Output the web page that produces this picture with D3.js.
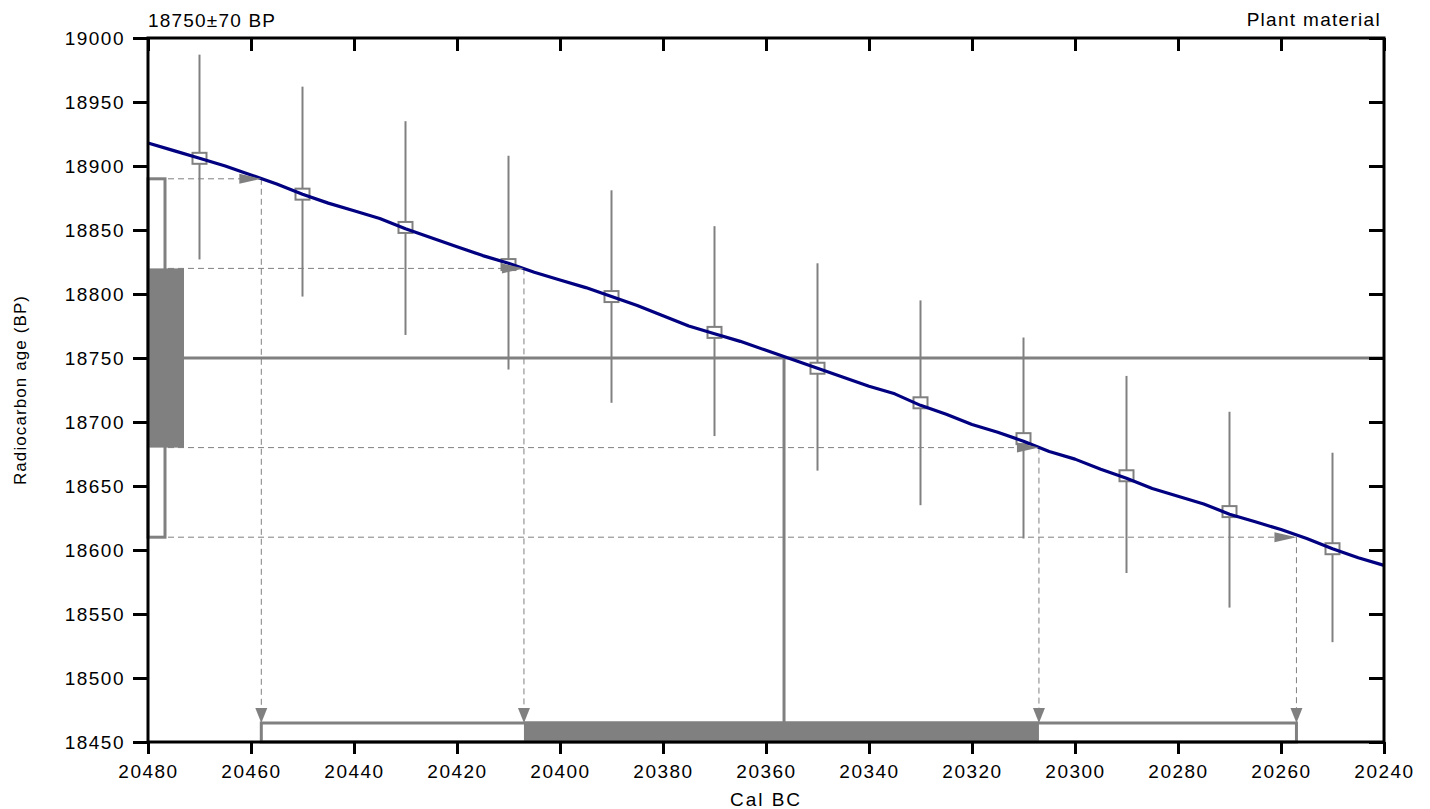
<!DOCTYPE html>
<html>
<head>
<meta charset="utf-8">
<script src="https://cdn.jsdelivr.net/npm/d3@7"></script>
<style>
  html, body { margin: 0; padding: 0; background: #ffffff; }
  svg { display: block; }
  text { font-family: "Liberation Sans", Arial, sans-serif; fill: #000; }
</style>
</head>
<body>
<svg id="chart" width="1430" height="809"></svg>
<script>
// ---------------- data ----------------
const titleLeft = "18750±70 BP";
const titleRight = "Plant material";
const xLabel = "Cal BC";
const yLabel = "Radiocarbon age (BP)";

const xTicks = [20480, 20460, 20440, 20420, 20400, 20380, 20360, 20340, 20320, 20300, 20280, 20260, 20240];
const yTicks = [18450, 18500, 18550, 18600, 18650, 18700, 18750, 18800, 18850, 18900, 18950, 19000];

// calibration curve (cal BC -> radiocarbon age BP)
const curveYears = [20480, 20475, 20470, 20465, 20460, 20455, 20450, 20445, 20440, 20435,
                    20430, 20425, 20420, 20415, 20410, 20405, 20400, 20395, 20390, 20385,
                    20380, 20375, 20370, 20365, 20360, 20355, 20350, 20345, 20340, 20335,
                    20330, 20325, 20320, 20315, 20310, 20305, 20300, 20295, 20290, 20285,
                    20280, 20275, 20270, 20265, 20260, 20255, 20250, 20245, 20240];
const curveBP = [18918, 18912, 18906, 18900, 18893, 18886, 18878, 18871, 18865, 18859,
                 18851, 18844, 18837, 18830, 18824, 18817, 18811, 18805, 18798, 18791,
                 18783, 18775, 18769, 18763, 18756, 18749, 18742, 18735, 18728, 18722,
                 18713, 18706, 18698, 18692, 18685, 18677, 18671, 18663, 18656, 18648,
                 18642, 18636, 18628, 18622, 18616, 18609, 18601, 18594, 18588];

// calibration data points with error bars
const pointYears = [20470, 20450, 20430, 20410, 20390, 20370, 20350, 20330, 20310, 20290, 20270, 20250];
const pointBP    = [18906, 18878, 18852, 18823, 18798, 18770, 18742, 18715, 18687, 18658, 18630, 18601];
const pointLow   = [18827, 18798, 18768, 18741, 18715, 18689, 18662, 18635, 18609, 18582, 18555, 18528];
const pointHigh  = [18987, 18962, 18935, 18908, 18881, 18853, 18824, 18795, 18766, 18736, 18708, 18676];

// measurement and calibrated ranges
const measBP = 18750;
const measErr = 70;
const calMedian = 20356.5;
const sigma1Range = [20407, 20307];
const sigma2Range = [20458, 20257];

// ---------------- layout ----------------
const GRAY = "#808080";
const NAVY = "#000080";
const plot = { left: 148, right: 1384, top: 38, bottom: 742 };

const svg = d3.select("#chart");
const x = d3.scaleLinear().domain([20480, 20240]).range([plot.left, plot.right]);
const y = d3.scaleLinear().domain([18450, 19000]).range([plot.bottom, plot.top]);

const barTop = plot.bottom - 19;

// dashed guide lines (horizontal from box to curve, vertical from curve down to bar)
const levels = [
  { bp: measBP + 2 * measErr, year: sigma2Range[0] },
  { bp: measBP + measErr, year: sigma1Range[0] },
  { bp: measBP - measErr, year: sigma1Range[1] },
  { bp: measBP - 2 * measErr, year: sigma2Range[1] }
];
const guides = svg.append("g")
  .attr("stroke", GRAY).attr("stroke-width", 1).attr("stroke-dasharray", "6,4").attr("fill", "none");
levels.forEach(l => {
  guides.append("line")
    .attr("x1", plot.left).attr("x2", x(l.year))
    .attr("y1", y(l.bp)).attr("y2", y(l.bp));
  guides.append("line")
    .attr("x1", x(l.year)).attr("x2", x(l.year))
    .attr("y1", y(l.bp)).attr("y2", barTop - 2);
});

// measurement line and median line
svg.append("line")
  .attr("x1", plot.left + 36).attr("x2", plot.right)
  .attr("y1", y(measBP)).attr("y2", y(measBP))
  .attr("stroke", GRAY).attr("stroke-width", 3);
svg.append("line")
  .attr("x1", x(calMedian)).attr("x2", x(calMedian))
  .attr("y1", y(measBP)).attr("y2", barTop)
  .attr("stroke", GRAY).attr("stroke-width", 3);

// error bars
const pts = pointYears.map((yr, i) => ({ yr, bp: pointBP[i], lo: pointLow[i], hi: pointHigh[i] }));
svg.append("g").selectAll("line").data(pts).join("line")
  .attr("x1", d => x(d.yr)).attr("x2", d => x(d.yr))
  .attr("y1", d => y(d.lo)).attr("y2", d => y(d.hi))
  .attr("stroke", GRAY).attr("stroke-width", 2);
svg.append("g").selectAll("rect").data(pts).join("rect")
  .attr("x", d => x(d.yr) - 7).attr("y", d => y(d.bp) - 5.5)
  .attr("width", 14).attr("height", 11)
  .attr("fill", "#fff").attr("stroke", GRAY).attr("stroke-width", 2);

// calibration curve
const curve = curveYears.map((yr, i) => [yr, curveBP[i]]);
svg.append("path")
  .datum(curve)
  .attr("d", d3.line().x(d => x(d[0])).y(d => y(d[1])))
  .attr("fill", "none").attr("stroke", NAVY).attr("stroke-width", 3.2)
  .attr("stroke-linejoin", "round");

// arrowheads
const arrows = svg.append("g").attr("fill", GRAY);
levels.forEach(l => {
  const tx = x(l.year), ty = y(l.bp);
  arrows.append("path").attr("d", `M${tx},${ty} L${tx - 22},${ty - 5} L${tx - 22},${ty + 5} Z`);
  arrows.append("path").attr("d", `M${tx},${barTop} L${tx - 6},${barTop - 15} L${tx + 6},${barTop - 15} Z`);
});

// left boxes (radiocarbon measurement ranges)
svg.append("rect")
  .attr("x", plot.left).attr("width", 17)
  .attr("y", y(measBP + 2 * measErr)).attr("height", y(measBP - 2 * measErr) - y(measBP + 2 * measErr))
  .attr("fill", "#fff").attr("stroke", GRAY).attr("stroke-width", 3);
svg.append("rect")
  .attr("x", plot.left).attr("width", 36)
  .attr("y", y(measBP + measErr)).attr("height", y(measBP - measErr) - y(measBP + measErr))
  .attr("fill", GRAY);

// bottom bars (calibrated ranges)
svg.append("rect")
  .attr("x", x(sigma2Range[0])).attr("width", x(sigma2Range[1]) - x(sigma2Range[0]))
  .attr("y", barTop).attr("height", plot.bottom - barTop)
  .attr("fill", "#fff").attr("stroke", GRAY).attr("stroke-width", 3);
svg.append("rect")
  .attr("x", x(sigma1Range[0])).attr("width", x(sigma1Range[1]) - x(sigma1Range[0]))
  .attr("y", barTop - 1.5).attr("height", plot.bottom - barTop + 1.5)
  .attr("fill", GRAY);

// axes
function styleAxis(g) {
  g.select(".domain").remove();
  g.selectAll(".tick line").attr("stroke", "#000").attr("stroke-width", 3);
  g.selectAll(".tick text")
    .style("font-family", "'Liberation Sans', Arial, sans-serif")
    .style("font-size", "19px").style("letter-spacing", "1.5px").attr("fill", "#000");
}
svg.append("g").attr("transform", `translate(${plot.left},0)`)
  .call(d3.axisLeft(y).tickValues(yTicks).tickFormat(d3.format("d")).tickSize(15).tickPadding(8))
  .call(styleAxis);
svg.append("g").attr("transform", `translate(0,${plot.bottom})`)
  .call(d3.axisBottom(x).tickValues(xTicks).tickFormat(d3.format("d")).tickSize(12).tickPadding(11))
  .call(styleAxis);
svg.append("g").attr("transform", `translate(0,${plot.top})`)
  .call(d3.axisBottom(x).tickValues(xTicks).tickFormat("").tickSize(13))
  .call(styleAxis);
svg.append("g").attr("transform", `translate(${plot.right},0)`)
  .call(d3.axisLeft(y).tickValues(yTicks).tickFormat("").tickSize(15))
  .call(styleAxis);

// frame
svg.append("rect")
  .attr("x", plot.left).attr("y", plot.top)
  .attr("width", plot.right - plot.left).attr("height", plot.bottom - plot.top)
  .attr("fill", "none").attr("stroke", "#000").attr("stroke-width", 3);

// texts
svg.append("text").attr("x", plot.left).attr("y", 27)
  .style("font-size", "19px").style("letter-spacing", "1.2px").text(titleLeft);
svg.append("text").attr("x", plot.right - 3).attr("y", 26).attr("text-anchor", "end")
  .style("font-size", "19px").style("letter-spacing", "1.3px").text(titleRight);
svg.append("text").attr("x", (plot.left + plot.right) / 2).attr("y", 806).attr("text-anchor", "middle")
  .style("font-size", "19px").style("letter-spacing", "2px").text(xLabel);
svg.append("text")
  .attr("transform", `translate(26,${(plot.top + plot.bottom) / 2}) rotate(-90)`)
  .attr("text-anchor", "middle")
  .style("font-size", "17px").style("letter-spacing", "1.1px").text(yLabel);
</script>
</body>
</html>
